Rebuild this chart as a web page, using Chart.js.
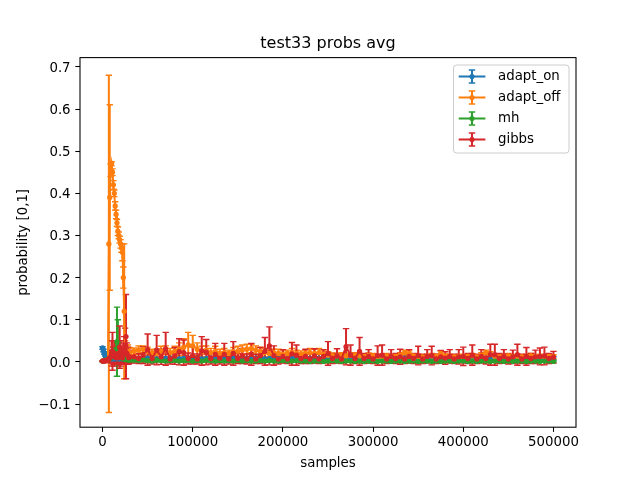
<!DOCTYPE html>
<html>
<head>
<meta charset="utf-8">
<script src="https://cdn.jsdelivr.net/npm/chart.js@4.4.1/dist/chart.umd.min.js"></script>
<style>
  html, body { margin: 0; padding: 0; background: #fff; }
  canvas { display: block; }
</style>
</head>
<body>
<canvas id="probsChart" width="640" height="480"></canvas>
<script>
// sample counts, in thousands
const samplesK = [
  0, 1, 2, 3, 4, 5, 6, 7, 8, 9, 10, 11, 12, 13, 14, 15, 16, 17, 18, 19,
  20, 21, 22, 23, 24, 25, 26, 27, 28, 29, 30,
  35, 40, 45, 50, 55, 60, 65, 70, 75, 80,
  85, 90, 95, 100, 105, 110, 115, 120, 125, 130,
  135, 140, 145, 150, 155, 160, 165, 170, 175, 180,
  185, 190, 195, 200, 205, 210, 215, 220, 225, 230,
  235, 240, 245, 250, 255, 260, 265, 270, 275, 280,
  285, 290, 295, 300, 305, 310, 315, 320, 325, 330,
  335, 340, 345, 350, 355, 360, 365, 370, 375, 380,
  385, 390, 395, 400, 405, 410, 415, 420, 425, 430,
  435, 440, 445, 450, 455, 460, 465, 470, 475, 480,
  485, 490, 495, 500
];

const seriesNames = ['adapt_on', 'adapt_off', 'mh', 'gibbs'];

const adaptOnVals = [
  0.033, 0.027, 0.021, 0.016, 0.012, 0.010, 0.009, 0.008, 0.008, 0.007,
  0.008, 0.009, 0.008, 0.007, 0.008, 0.008, 0.009, 0.008, 0.007, 0.008,
  0.009, 0.008, 0.008, 0.007, 0.008, 0.009, 0.008, 0.007, 0.008, 0.008, 0.007,
  0.008, 0.007, 0.008, 0.009, 0.008, 0.007, 0.008, 0.008, 0.009, 0.008,
  0.007, 0.008, 0.009, 0.008, 0.008, 0.007, 0.008, 0.009, 0.008, 0.007,
  0.008, 0.008, 0.009, 0.008, 0.007, 0.008, 0.008, 0.009, 0.008, 0.007,
  0.008, 0.009, 0.008, 0.008, 0.007, 0.008, 0.009, 0.008, 0.007, 0.008,
  0.008, 0.009, 0.008, 0.007, 0.008, 0.008, 0.009, 0.008, 0.007, 0.008,
  0.009, 0.008, 0.008, 0.007, 0.008, 0.009, 0.008, 0.007, 0.008, 0.008,
  0.009, 0.008, 0.007, 0.008, 0.008, 0.009, 0.008, 0.007, 0.008, 0.009,
  0.008, 0.008, 0.007, 0.008, 0.009, 0.008, 0.007, 0.008, 0.008, 0.009,
  0.008, 0.007, 0.008, 0.009, 0.008, 0.008, 0.007, 0.008, 0.009, 0.008,
  0.008, 0.007, 0.008, 0.009
];
const adaptOnErr = [
  0.003, 0.003, 0.003, 0.002, 0.002, 0.002, 0.002, 0.002, 0.002, 0.002,
  0.002, 0.003, 0.002, 0.002, 0.002, 0.003, 0.002, 0.002, 0.002, 0.003,
  0.002, 0.002, 0.003, 0.002, 0.002, 0.002, 0.003, 0.002, 0.002, 0.002, 0.003,
  0.002, 0.003, 0.002, 0.002, 0.003, 0.002, 0.002, 0.003, 0.002, 0.002,
  0.002, 0.003, 0.002, 0.002, 0.003, 0.002, 0.002, 0.003, 0.002, 0.002,
  0.002, 0.003, 0.002, 0.002, 0.003, 0.002, 0.002, 0.003, 0.002, 0.002,
  0.002, 0.003, 0.002, 0.002, 0.003, 0.002, 0.002, 0.003, 0.002, 0.002,
  0.002, 0.003, 0.002, 0.002, 0.003, 0.002, 0.002, 0.003, 0.002, 0.002,
  0.002, 0.003, 0.002, 0.002, 0.003, 0.002, 0.002, 0.003, 0.002, 0.002,
  0.002, 0.003, 0.002, 0.002, 0.003, 0.002, 0.002, 0.003, 0.002, 0.002,
  0.002, 0.003, 0.002, 0.002, 0.003, 0.002, 0.002, 0.003, 0.002, 0.002,
  0.002, 0.003, 0.002, 0.002, 0.003, 0.002, 0.002, 0.003, 0.002, 0.002,
  0.003, 0.002, 0.002, 0.003
];

const adaptOffVals = [
  0.002, 0.002, 0.003, 0.003, 0.004, 0.004, 0.005, 0.280, 0.390, 0.455,
  0.470, 0.450, 0.420, 0.400, 0.370, 0.350, 0.330, 0.310, 0.300, 0.290,
  0.280, 0.270, 0.260, 0.200, 0.120, 0.030, 0.025, 0.020, 0.025, 0.020, 0.022,
  0.025, 0.028, 0.030, 0.025, 0.022, 0.020, 0.025, 0.028, 0.022, 0.025,
  0.030, 0.035, 0.040, 0.038, 0.030, 0.025, 0.028, 0.022, 0.025, 0.020,
  0.022, 0.020, 0.024, 0.025, 0.028, 0.030, 0.032, 0.028, 0.025, 0.022,
  0.020, 0.022, 0.020, 0.018, 0.020, 0.022, 0.020, 0.018, 0.020, 0.022,
  0.020, 0.022, 0.018, 0.016, 0.015, 0.014, 0.016, 0.014, 0.015, 0.016,
  0.014, 0.013, 0.015, 0.014, 0.012, 0.013, 0.014, 0.012, 0.013, 0.016,
  0.022, 0.020, 0.014, 0.013, 0.012, 0.013, 0.014, 0.013, 0.020, 0.014,
  0.013, 0.012, 0.013, 0.012, 0.013, 0.014, 0.012, 0.016, 0.022, 0.018,
  0.013, 0.012, 0.013, 0.014, 0.012, 0.013, 0.012, 0.013, 0.014, 0.012,
  0.013, 0.012, 0.013, 0.012
];
const adaptOffErr = [
  0.001, 0.001, 0.002, 0.002, 0.002, 0.003, 0.003, 0.400, 0.220, 0.015,
  0.005, 0.008, 0.010, 0.008, 0.010, 0.010, 0.008, 0.010, 0.008, 0.008,
  0.010, 0.010, 0.020, 0.025, 0.160, 0.020, 0.015, 0.012, 0.015, 0.012, 0.012,
  0.008, 0.010, 0.008, 0.010, 0.008, 0.010, 0.012, 0.010, 0.010, 0.012,
  0.015, 0.020, 0.030, 0.025, 0.015, 0.012, 0.010, 0.010, 0.012, 0.010,
  0.010, 0.008, 0.010, 0.012, 0.012, 0.012, 0.010, 0.010, 0.010, 0.010,
  0.008, 0.008, 0.010, 0.008, 0.008, 0.010, 0.008, 0.008, 0.008, 0.010,
  0.010, 0.010, 0.008, 0.008, 0.006, 0.006, 0.006, 0.006, 0.006, 0.006,
  0.006, 0.005, 0.006, 0.006, 0.005, 0.005, 0.006, 0.005, 0.005, 0.006,
  0.006, 0.006, 0.005, 0.005, 0.005, 0.005, 0.006, 0.005, 0.006, 0.005,
  0.005, 0.005, 0.005, 0.005, 0.005, 0.006, 0.005, 0.006, 0.006, 0.006,
  0.005, 0.005, 0.005, 0.006, 0.005, 0.005, 0.005, 0.005, 0.006, 0.005,
  0.005, 0.005, 0.005, 0.005
];

const mhVals = [
  0.002, 0.002, 0.003, 0.003, 0.004, 0.004, 0.005, 0.006, 0.008, 0.010,
  0.012, 0.015, 0.020, 0.015, 0.020, 0.030, 0.048, 0.045, 0.025, 0.015,
  0.012, 0.010, 0.008, 0.010, 0.008, 0.006, 0.007, 0.005, 0.006, 0.005, 0.004,
  0.004, 0.003, 0.005, 0.003, 0.002, 0.004, 0.003, 0.002, 0.003, 0.004,
  0.002, 0.003, 0.004, 0.002, 0.003, 0.002, 0.004, 0.003, 0.002, 0.003,
  0.002, 0.003, 0.002, 0.004, 0.002, 0.003, 0.002, 0.002, 0.003, 0.002,
  0.003, 0.002, 0.002, 0.003, 0.002, 0.002, 0.003, 0.002, 0.002, 0.001,
  0.002, 0.002, 0.001, 0.002, 0.003, 0.002, 0.001, 0.002, 0.002, 0.001,
  0.002, 0.001, 0.002, 0.002, 0.001, 0.002, 0.002, 0.001, 0.002, 0.002,
  0.001, 0.002, 0.002, 0.001, 0.002, 0.002, 0.001, 0.002, 0.001, 0.002,
  0.002, 0.001, 0.002, 0.002, 0.001, 0.002, 0.001, 0.002, 0.002, 0.001,
  0.002, 0.002, 0.001, 0.002, 0.001, 0.002, 0.002, 0.001, 0.002, 0.002,
  0.001, 0.002, 0.002, 0.001
];
const mhErr = [
  0.001, 0.001, 0.002, 0.002, 0.002, 0.003, 0.003, 0.004, 0.005, 0.008,
  0.010, 0.012, 0.015, 0.012, 0.015, 0.020, 0.082, 0.055, 0.025, 0.015,
  0.012, 0.010, 0.008, 0.010, 0.008, 0.006, 0.007, 0.005, 0.006, 0.005, 0.004,
  0.004, 0.003, 0.005, 0.004, 0.003, 0.004, 0.003, 0.003, 0.004, 0.004,
  0.003, 0.004, 0.004, 0.003, 0.003, 0.003, 0.004, 0.003, 0.003, 0.003,
  0.003, 0.003, 0.003, 0.004, 0.003, 0.003, 0.003, 0.003, 0.003, 0.003,
  0.003, 0.002, 0.003, 0.003, 0.002, 0.003, 0.003, 0.002, 0.003, 0.002,
  0.003, 0.002, 0.002, 0.003, 0.003, 0.002, 0.002, 0.003, 0.002, 0.002,
  0.003, 0.002, 0.002, 0.003, 0.002, 0.002, 0.003, 0.002, 0.002, 0.003,
  0.002, 0.002, 0.003, 0.002, 0.002, 0.003, 0.002, 0.002, 0.003, 0.002,
  0.002, 0.003, 0.002, 0.002, 0.003, 0.002, 0.002, 0.003, 0.002, 0.002,
  0.003, 0.002, 0.002, 0.003, 0.002, 0.002, 0.003, 0.002, 0.002, 0.003,
  0.002, 0.002, 0.003, 0.002
];

const gibbsVals = [
  0.002, 0.002, 0.003, 0.002, 0.003, 0.004, 0.005, 0.006, 0.010, 0.012,
  0.020, 0.025, 0.015, 0.020, 0.012, 0.010, 0.015, 0.010, 0.020, 0.035,
  0.020, 0.015, 0.010, 0.020, 0.030, 0.040, 0.060, 0.020, 0.015, 0.010, 0.012,
  0.012, 0.008, 0.016, 0.029, 0.008, 0.028, 0.012, 0.031, 0.007, 0.014,
  0.024, 0.022, 0.008, 0.015, 0.007, 0.026, 0.023, 0.008, 0.018, 0.009,
  0.018, 0.007, 0.020, 0.008, 0.014, 0.007, 0.018, 0.007, 0.015, 0.025,
  0.038, 0.015, 0.007, 0.013, 0.007, 0.019, 0.016, 0.008, 0.013, 0.007,
  0.014, 0.007, 0.013, 0.020, 0.008, 0.014, 0.007, 0.036, 0.016, 0.008,
  0.025, 0.008, 0.013, 0.007, 0.015, 0.016, 0.007, 0.013, 0.008, 0.012,
  0.007, 0.013, 0.008, 0.015, 0.007, 0.013, 0.015, 0.007, 0.012, 0.009,
  0.013, 0.007, 0.012, 0.013, 0.008, 0.016, 0.007, 0.013, 0.008, 0.017,
  0.017, 0.008, 0.013, 0.007, 0.012, 0.017, 0.007, 0.013, 0.008, 0.012,
  0.013, 0.014, 0.008, 0.011
];
const gibbsErr = [
  0.001, 0.001, 0.002, 0.002, 0.002, 0.003, 0.004, 0.005, 0.010, 0.015,
  0.030, 0.045, 0.020, 0.030, 0.015, 0.012, 0.020, 0.015, 0.025, 0.050,
  0.030, 0.020, 0.015, 0.025, 0.030, 0.040, 0.100, 0.025, 0.020, 0.015, 0.015,
  0.015, 0.012, 0.020, 0.037, 0.013, 0.035, 0.018, 0.039, 0.012, 0.020,
  0.031, 0.030, 0.013, 0.020, 0.012, 0.034, 0.030, 0.013, 0.026, 0.014,
  0.026, 0.012, 0.028, 0.012, 0.018, 0.012, 0.026, 0.011, 0.019, 0.033,
  0.045, 0.023, 0.012, 0.016, 0.011, 0.027, 0.024, 0.012, 0.017, 0.011,
  0.017, 0.011, 0.016, 0.028, 0.012, 0.017, 0.011, 0.043, 0.024, 0.012,
  0.033, 0.012, 0.016, 0.011, 0.023, 0.024, 0.011, 0.016, 0.012, 0.018,
  0.011, 0.016, 0.012, 0.022, 0.011, 0.016, 0.022, 0.011, 0.015, 0.015,
  0.016, 0.011, 0.017, 0.022, 0.012, 0.024, 0.011, 0.016, 0.013, 0.025,
  0.025, 0.012, 0.016, 0.012, 0.016, 0.025, 0.011, 0.021, 0.012, 0.016,
  0.020, 0.021, 0.012, 0.014
];

const xTicks = [0, 100000, 200000, 300000, 400000, 500000];
const yTicks = [-0.1, 0.0, 0.1, 0.2, 0.3, 0.4, 0.5, 0.6, 0.7];

const colors = ['#1f77b4', '#ff7f0e', '#2ca02c', '#d62728'];
const allVals = [adaptOnVals, adaptOffVals, mhVals, gibbsVals];
const allErr = [adaptOnErr, adaptOffErr, mhErr, gibbsErr];

const FONT = 'DejaVu Sans';
const CAP = 3.2;

// matplotlib draws every error bar below every data line
const errorBars = {
  id: 'errorBars',
  beforeDatasetsDraw(chart) {
    const { ctx, chartArea: a, scales: { y } } = chart;
    ctx.save();
    ctx.beginPath();
    ctx.rect(a.left, a.top, a.right - a.left, a.bottom - a.top);
    ctx.clip();
    chart.data.datasets.forEach((ds, i) => {
      const meta = chart.getDatasetMeta(i);
      ctx.strokeStyle = ds.borderColor;
      meta.data.forEach((pt, j) => {
        const v = ds.data[j].y, e = ds.errs[j];
        const top = y.getPixelForValue(v + e);
        const bot = y.getPixelForValue(v - e);
        ctx.lineWidth = 2;
        ctx.beginPath();
        ctx.moveTo(pt.x, top);
        ctx.lineTo(pt.x, bot);
        ctx.stroke();
        ctx.lineWidth = 1.4;
        ctx.beginPath();
        ctx.moveTo(pt.x - CAP, top); ctx.lineTo(pt.x + CAP, top);
        ctx.moveTo(pt.x - CAP, bot); ctx.lineTo(pt.x + CAP, bot);
        ctx.stroke();
      });
    });
    ctx.restore();
  }
};

// axes frame and the errorbar-style legend box
const frameAndLegend = {
  id: 'frameAndLegend',
  afterDatasetsDraw(chart) {
    const { ctx, chartArea: a } = chart;
    ctx.save();
    ctx.strokeStyle = '#000';
    ctx.lineWidth = 1.07;
    ctx.strokeRect(a.left, a.top, a.right - a.left, a.bottom - a.top);

    const bx = 453.5, by = 65, bw = 115.5, bh = 88, r = 3;
    ctx.beginPath();
    ctx.roundRect(bx, by, bw, bh, r);
    ctx.fillStyle = 'rgba(255,255,255,0.8)';
    ctx.fill();
    ctx.strokeStyle = '#cccccc';
    ctx.lineWidth = 1;
    ctx.stroke();

    ctx.font = '13.33px "' + FONT + '"';
    ctx.textBaseline = 'middle';
    seriesNames.forEach((name, i) => {
      const ry = 76.5 + i * 21;
      const cx = 472;
      ctx.strokeStyle = colors[i];
      ctx.fillStyle = colors[i];
      ctx.lineWidth = 2;
      ctx.beginPath();
      ctx.moveTo(458.7, ry); ctx.lineTo(485.4, ry);
      ctx.moveTo(cx, ry - 6.5); ctx.lineTo(cx, ry + 6.5);
      ctx.stroke();
      ctx.lineWidth = 1.4;
      ctx.beginPath();
      ctx.moveTo(cx - CAP, ry - 6.5); ctx.lineTo(cx + CAP, ry - 6.5);
      ctx.moveTo(cx - CAP, ry + 6.5); ctx.lineTo(cx + CAP, ry + 6.5);
      ctx.stroke();
      ctx.beginPath();
      ctx.arc(cx, ry, 2.6, 0, Math.PI * 2);
      ctx.fill();
      ctx.fillStyle = '#000';
      ctx.fillText(name, 498, ry + 0.5);
    });
    ctx.restore();
  }
};

const datasets = seriesNames.map((name, i) => ({
  label: name,
  data: samplesK.map((k, j) => ({ x: k * 1000, y: allVals[i][j] })),
  errs: allErr[i],
  borderColor: colors[i],
  backgroundColor: colors[i],
  pointBackgroundColor: colors[i],
  pointBorderColor: colors[i],
  borderWidth: 2,
  pointRadius: 2,
  pointBorderWidth: 1.3,
  pointHoverRadius: 0,
  showLine: true,
  tension: 0,
  fill: false,
  order: 4 - i
}));

new Chart(document.getElementById('probsChart'), {
  type: 'scatter',
  data: { datasets },
  plugins: [errorBars, frameAndLegend],
  options: {
    responsive: false,
    animation: false,
    events: [],
    layout: { padding: { top: 0, right: 64, bottom: 0, left: 0 } },
    plugins: {
      legend: { display: false },
      tooltip: { enabled: false },
      title: {
        display: true,
        text: 'test33 probs avg',
        fullSize: false,
        color: '#000',
        font: { family: FONT, size: 16, weight: 'normal' },
        padding: { top: 34, bottom: 4.4 }
      }
    },
    scales: {
      x: {
        type: 'linear',
        min: -25000,
        max: 525000,
        afterFit: s => { s.height = 52.8; },
        afterBuildTicks: s => { s.ticks = xTicks.map(v => ({ value: v })); },
        grid: { drawOnChartArea: false, drawTicks: true, tickLength: 4.7, tickColor: '#000', tickWidth: 1.07 },
        border: { display: false },
        ticks: {
          color: '#000',
          padding: 3,
          maxRotation: 0,
          font: { family: FONT, size: 13.33 },
          callback: v => String(v)
        },
        title: {
          display: true,
          text: 'samples',
          color: '#000',
          font: { family: FONT, size: 13.33 },
          padding: { top: 0, bottom: 8 }
        }
      },
      y: {
        min: -0.155,
        max: 0.722,
        afterFit: s => { s.width = 80; },
        afterBuildTicks: s => { s.ticks = yTicks.map(v => ({ value: v })); },
        grid: { drawOnChartArea: false, drawTicks: true, tickLength: 4.7, tickColor: '#000', tickWidth: 1.07 },
        border: { display: false },
        ticks: {
          color: '#000',
          padding: 4.7,
          labelOffset: 1.5,
          font: { family: FONT, size: 13.33 },
          callback: v => (v < 0 ? '\u2212' : '') + Math.abs(v).toFixed(1)
        },
        title: {
          display: true,
          text: 'probability [0,1]',
          color: '#000',
          font: { family: FONT, size: 13.33 },
          padding: { top: 16, bottom: 0 }
        }
      }
    }
  }
});
</script>
</body>
</html>
